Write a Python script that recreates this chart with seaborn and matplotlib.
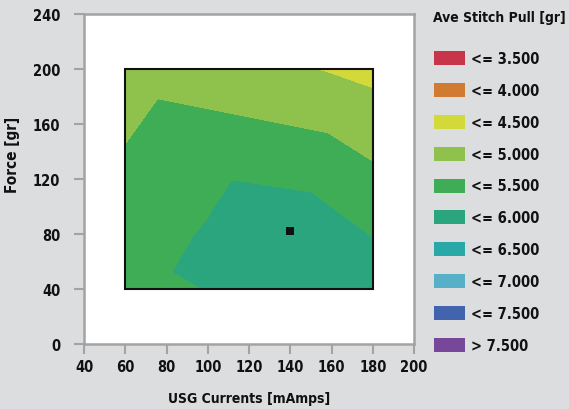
import matplotlib
matplotlib.use("Agg")
import matplotlib.pyplot as plt
from matplotlib.patches import Patch, Rectangle
import seaborn as sns

# grid of the measured surface (USG current x force)
current = [60, 76, 84, 98, 112, 150, 158, 180]
force = [40, 53, 80, 119, 153, 178, 200]
stitch_pull = [
    [5.330, 5.420, 5.440, 5.502, 5.720, 5.820, 5.780, 5.780],
    [5.300, 5.450, 5.505, 5.560, 5.760, 5.860, 5.800, 5.711],
    [5.220, 5.400, 5.400, 5.538, 5.730, 5.830, 5.702, 5.468],
    [5.112, 5.260, 5.250, 5.307, 5.497, 5.399, 5.325, 5.117],
    [4.960, 5.109, 5.099, 5.106, 5.143, 5.025, 4.999, 4.811],
    [4.850, 4.998, 4.987, 4.958, 4.882, 4.753, 4.712, 4.570],
    [4.760, 4.890, 4.877, 4.848, 4.700, 4.505, 4.470, 4.365],
]
optimum_current = [140]
optimum_force = [82]

levels = [3.0, 3.5, 4.0, 4.5, 5.0, 5.5, 6.0, 6.5, 7.0, 7.5, 8.0]
labels = ['<= 3.500', '<= 4.000', '<= 4.500', '<= 5.000', '<= 5.500',
          '<= 6.000', '<= 6.500', '<= 7.000', '<= 7.500', '> 7.500']
colors = ['#c8344a', '#d07a32', '#d4d93a', '#8fc24c', '#3fad55',
          '#2aa57e', '#29a8a8', '#56b0c8', '#4264ae', '#77479a']

sns.set_style('white')
plt.rcParams['font.family'] = ['DejaVu Sans']

fig = plt.figure(figsize=(5.69, 4.10), dpi=100, facecolor='#dcdddf')
ax = fig.add_axes([84 / 569, 65 / 410, 330 / 569, 330 / 410])
ax.set_facecolor('white')

ax.contourf(current, force, stitch_pull, levels=levels, colors=colors)
ax.add_patch(Rectangle((min(current), min(force)), max(current) - min(current),
                       max(force) - min(force), fill=False, ec='#111111', lw=1.5, zorder=3))
sns.scatterplot(x=optimum_current, y=optimum_force, marker='s', color='#111111',
                s=40, linewidth=0, ax=ax, zorder=4)

ax.set_xlim(40, 200)
ax.set_ylim(0, 240)
ax.set_xticks(range(40, 201, 20))
ax.set_yticks(range(0, 241, 40))
for s in ax.spines.values():
    s.set_color('#a3a3a3')
    s.set_linewidth(1.8)
ax.tick_params(axis='both', which='major', length=7, width=1.5, color='#a3a3a3',
               direction='out', bottom=True, left=True)
ax.tick_params(axis='x', pad=4)
ax.tick_params(axis='y', pad=10)
tick_font = dict(family='DejaVu Sans', stretch='condensed', weight='bold', size=10.5,
                 color='#111111')
ax.set_xticklabels([str(v) for v in range(40, 201, 20)], fontdict=tick_font)
ax.set_yticklabels([str(v) for v in range(0, 241, 40)], fontdict=tick_font)
ax.set_xlabel('USG Currents [mAmps]', fontsize=10, fontweight='bold', fontstretch='condensed',
              color='#111111', labelpad=12)
ax.set_ylabel('Force [gr]', fontsize=11, fontweight='semibold', fontstretch='condensed',
              color='#111111')
ax.yaxis.set_label_coords(-0.195, 0.576)

handles = [Patch(facecolor=c, edgecolor='none') for c in colors]
fs = 10.5
leg = fig.legend(handles, labels, loc='upper left', bbox_to_anchor=(428 / 569, 1 - 46 / 410),
                 frameon=False,
                 prop=dict(family='DejaVu Sans', stretch='condensed', weight='bold', size=fs),
                 handlelength=31 / (fs * 1.389), handleheight=16 / (fs * 1.389),
                 labelspacing=1.16, handletextpad=0.45, borderaxespad=0)
for t in leg.get_texts():
    t.set_color('#111111')
fig.text(433 / 569, 1 - 18 / 410, 'Ave Stitch Pull [gr]', fontsize=10, fontweight='bold',
         fontstretch='condensed', color='#111111', ha='left', va='center')

fig.savefig('out.png', dpi=100, facecolor=fig.get_facecolor())
